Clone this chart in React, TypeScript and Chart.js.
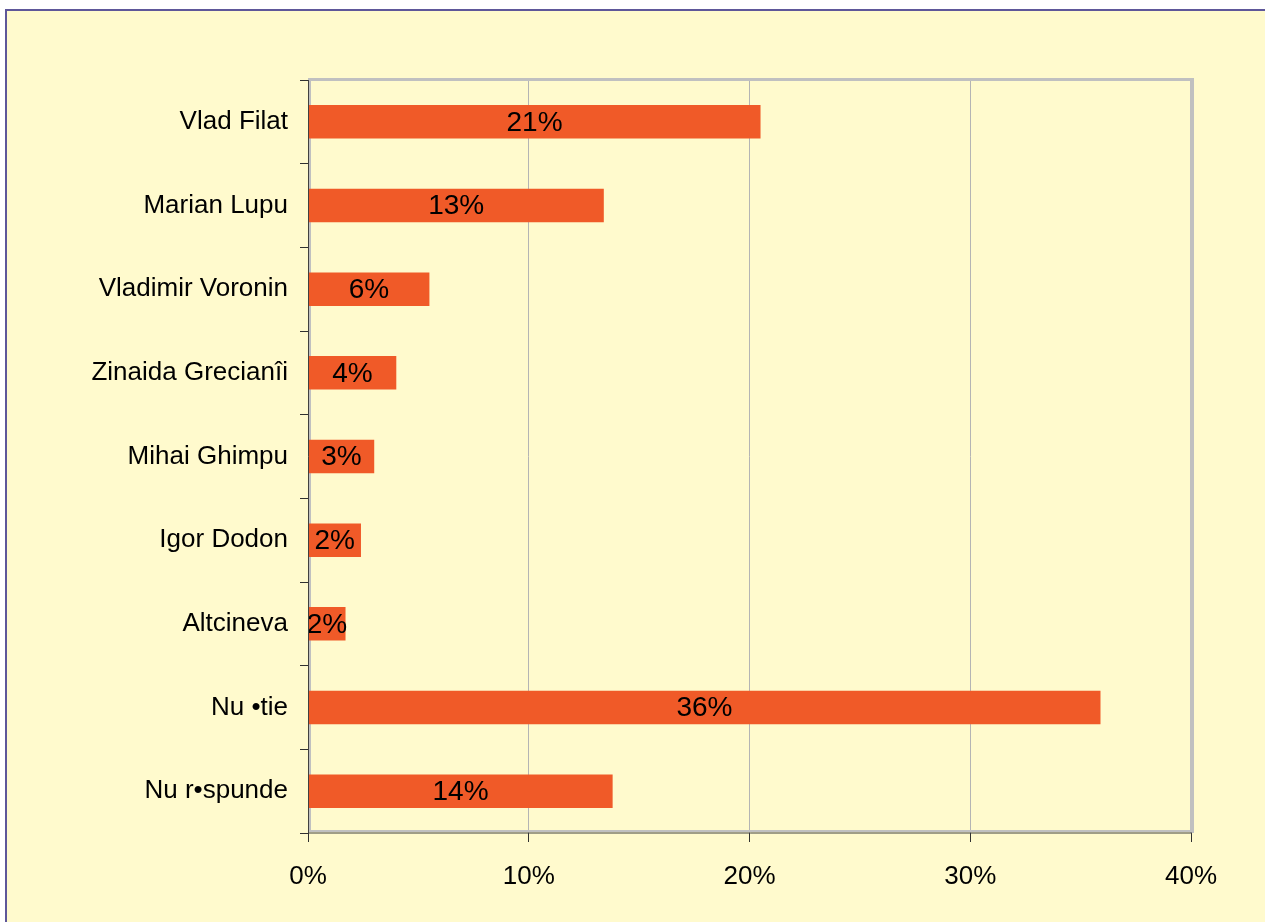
import React, { useEffect, useRef } from "react";
import { Chart, registerables } from "chart.js";

Chart.register(...registerables);

const categories: string[] = [
  "Vlad Filat",
  "Marian Lupu",
  "Vladimir Voronin",
  "Zinaida Grecianîi",
  "Mihai Ghimpu",
  "Igor Dodon",
  "Altcineva",
  "Nu •tie",
  "Nu r•spunde",
];
const values: number[] = [20.5, 13.4, 5.5, 4.0, 3.0, 2.4, 1.7, 35.9, 13.8];
const valueLabels: string[] = ["21%", "13%", "6%", "4%", "3%", "2%", "2%", "36%", "14%"];
const xTicks: number[] = [0, 10, 20, 30, 40];

const FONT = "'Liberation Sans', Arial, sans-serif";
const BG = "#FFFACD";
const BAR = "#F05A28";

const framePlugin = {
  id: "frame",
  beforeDraw(chart: any) {
    const { ctx, width, height } = chart;
    ctx.save();
    ctx.fillStyle = "#FFFFFF";
    ctx.fillRect(0, 0, width, height);
    ctx.fillStyle = BG;
    ctx.fillRect(5, 9, width, height);
    ctx.strokeStyle = "#5E5799";
    ctx.lineWidth = 2;
    ctx.beginPath();
    ctx.moveTo(6, height + 5);
    ctx.lineTo(6, 10);
    ctx.lineTo(width + 5, 10);
    ctx.stroke();
    ctx.restore();
  },
  beforeDatasetsDraw(chart: any) {
    const { ctx, chartArea } = chart;
    const { left, right, top, bottom } = chartArea;
    ctx.save();
    ctx.strokeStyle = "#C0C0C0";
    ctx.lineWidth = 2;
    ctx.beginPath();
    ctx.moveTo(left + 2, top);
    ctx.lineTo(left + 2, bottom - 1);
    ctx.stroke();
    ctx.beginPath();
    ctx.moveTo(left, bottom - 2);
    ctx.lineTo(right, bottom - 2);
    ctx.stroke();
    ctx.restore();
  },
  afterDraw(chart: any) {
    const { ctx, chartArea } = chart;
    const { left, right, top, bottom } = chartArea;
    ctx.save();
    ctx.strokeStyle = "#C0C0C0";
    ctx.lineWidth = 3;
    ctx.beginPath();
    ctx.moveTo(left, top - 0.5);
    ctx.lineTo(right + 3, top - 0.5);
    ctx.stroke();
    ctx.lineWidth = 4;
    ctx.beginPath();
    ctx.moveTo(right + 1, top - 2);
    ctx.lineTo(right + 1, bottom);
    ctx.stroke();
    ctx.strokeStyle = "#404040";
    ctx.lineWidth = 1;
    ctx.beginPath();
    ctx.moveTo(left + 0.5, top);
    ctx.lineTo(left + 0.5, bottom);
    ctx.lineTo(right + 1, bottom);
    ctx.stroke();
    ctx.restore();
  },
};

const labelPlugin = {
  id: "barLabels",
  afterDatasetsDraw(chart: any) {
    const { ctx } = chart;
    const meta = chart.getDatasetMeta(0);
    ctx.save();
    ctx.font = `28px ${FONT}`;
    ctx.fillStyle = "#000000";
    ctx.textAlign = "center";
    ctx.textBaseline = "middle";
    meta.data.forEach((bar: any, i: number) => {
      const x = (bar.x + bar.base) / 2;
      ctx.fillText(valueLabels[i], x, bar.y + 1);
    });
    ctx.restore();
  },
};

export default function App() {
  const ref = useRef<HTMLCanvasElement>(null);
  useEffect(() => {
    if (!ref.current) return;
    const chart = new Chart(ref.current, {
      type: "bar",
      data: {
        labels: categories,
        datasets: [
          {
            data: values,
            backgroundColor: BAR,
            borderWidth: 0,
            barPercentage: 0.4,
            categoryPercentage: 1,
          },
        ],
      },
      options: {
        indexAxis: "y",
        animation: false,
        responsive: false,
        maintainAspectRatio: false,
        layout: { padding: { top: 80, right: 74, left: 0, bottom: 0 } },
        plugins: {
          legend: { display: false },
          tooltip: { enabled: false },
          title: { display: false },
        },
        scales: {
          x: {
            min: 0,
            max: 40,
            afterFit(scale: any) {
              scale.height = 89;
            },
            afterBuildTicks(scale: any) {
              scale.ticks = xTicks.map((v) => ({ value: v }));
            },
            ticks: {
              font: { family: FONT, size: 26 },
              color: "#000000",
              padding: 19,
              callback: (v: any) => `${v}%`,
            },
            grid: {
              color: "#B4B4B4",
              lineWidth: 1,
              tickColor: "#303030",
              tickLength: 9,
              drawTicks: true,
            },
            border: { display: false },
          },
          y: {
            afterFit(scale: any) {
              scale.width = 308;
            },
            ticks: {
              font: { family: FONT, size: 26 },
              color: "#000000",
              padding: 12,
            },
            grid: {
              drawOnChartArea: false,
              tickColor: "#303030",
              tickLength: 8,
              offset: true,
            },
            border: { display: false },
          },
        },
      },
      plugins: [framePlugin, labelPlugin],
    });
    return () => chart.destroy();
  }, []);
  return (
    <div style={{ position: "absolute", left: 0, top: 0, width: 1265, height: 922 }}>
      <canvas ref={ref} width={1265} height={922} style={{ display: "block" }} />
    </div>
  );
}
